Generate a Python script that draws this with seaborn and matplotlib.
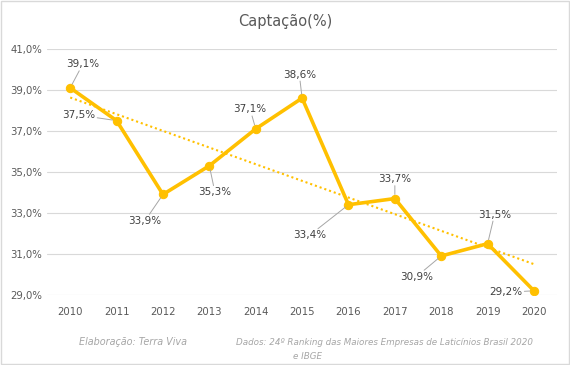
import matplotlib
matplotlib.use('Agg')
import matplotlib.pyplot as plt
import numpy as np
import seaborn as sns

# data
years = [2010, 2011, 2012, 2013, 2014, 2015, 2016, 2017, 2018, 2019, 2020]
captacao = [39.1, 37.5, 33.9, 35.3, 37.1, 38.6, 33.4, 33.7, 30.9, 31.5, 29.2]
# label offsets (points) relative to each marker
label_offsets = [(9, 17), (-27, 4), (-13, -19), (4, -19), (-4, 14), (-2, 17),
                 (-28, -22), (0, 14), (-18, -15), (5, 21), (-20, -1)]

sns.set_style('white')
plt.rcParams['font.family'] = ['DejaVu Sans']

gold = '#FFC000'
gray_txt = '#595959'

fig = plt.figure(figsize=(5.7, 3.65), dpi=100)
ax = fig.add_axes([0.0825, 0.192, 0.895, 0.674])

# trend line (linear fit)
coef = np.polyfit(years, captacao, 1)
trend = np.polyval(coef, years)
ax.plot(years, trend, color=gold, lw=1.5, ls=(0, (1, 1.4)), zorder=2)

sns.lineplot(x=years, y=captacao, ax=ax, color=gold, lw=2.6, marker='o',
             markersize=6, markeredgecolor=gold, zorder=3)

for x, y, off in zip(years, captacao, label_offsets):
    ax.annotate(f'{y:.1f}%'.replace('.', ','), xy=(x, y), xytext=off,
                textcoords='offset points', ha='center', va='center',
                fontsize=7.5, color='#404040',
                bbox=dict(boxstyle='square,pad=0.15', fc='none', ec='none'),
                arrowprops=dict(arrowstyle='-', color='#A6A6A6', lw=0.7,
                                shrinkA=0, shrinkB=3))

ax.set_xlim(2009.5, 2020.5)
ax.set_ylim(29, 41)
ax.set_xticks(years)
ax.set_yticks(np.arange(29, 42, 2))
ax.set_yticklabels([f'{v:.1f}%'.replace('.', ',') for v in np.arange(29, 42, 2)])
ax.tick_params(axis='both', length=0, labelsize=7.3, labelcolor=gray_txt)
ax.tick_params(axis='x', pad=9)
ax.grid(axis='y', color='#D9D9D9', lw=0.8)
ax.set_axisbelow(True)
for s in ax.spines.values():
    s.set_visible(False)
ax.set_xlabel('')
ax.set_ylabel('')

fig.text(0.5, 0.94, 'Captação(%)', ha='center', va='center', fontsize=10.5,
         color=gray_txt)

foot = '#A6A6A6'
fig.text(0.234, 0.063, 'Elaboração: Terra Viva', ha='center', va='center',
         fontsize=6.9, style='italic', color=foot)
fig.text(0.414, 0.063,
         'Dados: 24º Ranking das Maiores Empresas de Laticínios Brasil 2020',
         ha='left', va='center', fontsize=6.3, style='italic', color=foot)
fig.text(0.54, 0.022, 'e IBGE', ha='center', va='center', fontsize=6.3,
         style='italic', color=foot)

# light frame around the chart area
fig.patches.append(plt.Rectangle((0.002, 0.003), 0.996, 0.994,
                                 transform=fig.transFigure, fill=False,
                                 ec='#D9D9D9', lw=1.0))

fig.savefig('out.png', dpi=100)
